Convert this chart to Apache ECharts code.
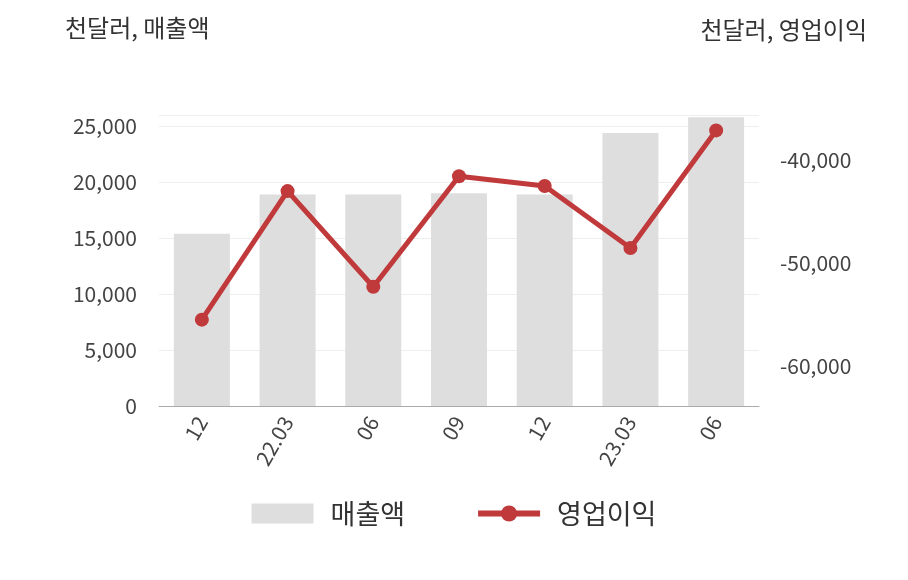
<!DOCTYPE html>
<html><head><meta charset="utf-8">
<script src="https://cdn.jsdelivr.net/npm/echarts@6/dist/echarts.min.js"></script>
<style>html,body{margin:0;padding:0;background:#fff}#c{width:908px;height:580px}</style>
</head><body><div id="c"></div>
<script>
const categories = ['12','22.03','06','09','12','23.03','06'];
const sales = [15400, 18900, 18900, 19000, 18900, 24400, 25800];
const opProfit = [-55500, -43000, -52300, -41550, -42500, -48540, -37100];
const font = '"Noto Sans CJK KR","Noto Sans",sans-serif';
const chart = echarts.init(document.getElementById('c'));
chart.setOption({
  animation: false,
  textStyle: {fontFamily: font},
  title: [
    {text: '천달러, 매출액', left: 60, top: 11, textStyle: {fontSize: 24, fontWeight: 'normal', color: '#333', fontFamily: font}},
    {text: '천달러, 영업이익', right: 36, top: 13, textStyle: {fontSize: 24, fontWeight: 'normal', color: '#333', fontFamily: font}}
  ],
  legend: {
    bottom: 48, left: 'center', itemGap: 70, itemWidth: 62, itemHeight: 20,
    textStyle: {fontSize: 27, color: '#333', fontFamily: font, padding: [0, 0, 0, 12]},
    data: [{name: '매출액', icon: 'rect'}, {name: '영업이익', lineStyle: {width: 6}}]
  },
  grid: {left: 159, right: 149, top: 115, bottom: 174},
  xAxis: {
    type: 'category', data: categories,
    axisLine: {lineStyle: {color: '#aaa'}}, axisTick: {show: false},
    axisLabel: {rotate: 60, fontSize: 21, color: '#444', margin: 12}
  },
  yAxis: [
    {type: 'value', min: 0, max: 26000, interval: 5000, offset: 14,
     axisLabel: {fontSize: 21, color: '#444', formatter: v => v % 5000 === 0 ? v.toLocaleString('en-US') : ''},
     splitLine: {lineStyle: {color: '#eee'}}, axisLine: {show: false}, axisTick: {show: false}},
    {type: 'value', min: -63900, max: -35600, interval: 100, offset: 13,
     axisLabel: {fontSize: 21, color: '#444', formatter: v => v % 10000 === 0 ? v.toLocaleString('en-US') : ''},
     splitLine: {show: false}, axisLine: {show: false}, axisTick: {show: false}}
  ],
  series: [
    {name: '매출액', type: 'bar', data: sales, barWidth: 56, itemStyle: {color: '#dedede'}},
    {name: '영업이익', type: 'line', yAxisIndex: 1, data: opProfit, symbol: 'circle', symbolSize: 14,
     lineStyle: {color: '#c0393b', width: 5}, itemStyle: {color: '#c0393b'}}
  ]
});
</script></body></html>
